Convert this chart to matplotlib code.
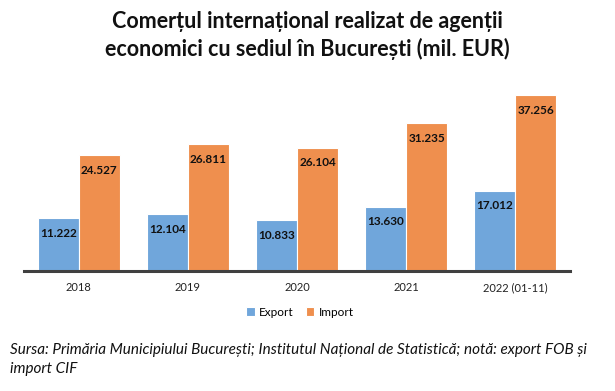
import matplotlib
matplotlib.use("Agg")
import matplotlib.pyplot as plt
import numpy as np

categories = ["2018", "2019", "2020", "2021", "2022 (01-11)"]
export_vals = [11222, 12104, 10833, 13630, 17012]
import_vals = [24527, 26811, 26104, 31235, 37256]
export_labels = ["11.222", "12.104", "10.833", "13.630", "17.012"]
import_labels = ["24.527", "26.811", "26.104", "31.235", "37.256"]

plt.rcParams['font.family'] = ['Lato', 'DejaVu Sans']

W, H = 615, 391
fig = plt.figure(figsize=(W/100, H/100), dpi=100)
ax = fig.add_axes([24/W, (H-271)/H, (570-24)/W, (271-82)/H])

x = np.arange(len(categories))
bw = 0.375
c_exp = "#70A6DB"
c_imp = "#EF8F4E"
b1 = ax.bar(x - bw/2, export_vals, bw, color=c_exp, edgecolor="white", linewidth=0.8, label="Export")
b2 = ax.bar(x + bw/2, import_vals, bw, color=c_imp, edgecolor="white", linewidth=0.8, label="Import")

ax.set_xlim(-0.5, len(categories) - 0.5)
ax.set_ylim(0, 40000)
for s in ["top", "left", "right"]:
    ax.spines[s].set_visible(False)
ax.spines["bottom"].set_color("#404040")
ax.spines["bottom"].set_linewidth(2.2)
ax.set_yticks([])
ax.set_xticks(x)
ax.set_xticklabels(categories, fontsize=8, color="#222222")
ax.tick_params(axis="x", length=0, pad=8)

for bars, labs in ((b1, export_labels), (b2, import_labels)):
    for r, lab in zip(bars, labs):
        ax.annotate(lab, (r.get_x() + r.get_width()/2, r.get_height()),
                    xytext=(0, -11), textcoords="offset points",
                    ha="center", va="center", fontsize=8.5, fontweight="bold", color="#111111")

fig.text(0.5, 1 - 22/H, "Comerțul internațional realizat de agenții", ha="center", va="center",
         fontsize=15.5, fontweight="bold", color="#111111")
fig.text(0.5, 1 - 49/H, "economici cu sediul în București (mil. EUR)", ha="center", va="center",
         fontsize=15.5, fontweight="bold", color="#111111")

fig.legend(handles=[b1, b2], labels=["Export", "Import"], loc="center",
           bbox_to_anchor=(300/W, 1 - 312/H), ncol=2, frameon=False, fontsize=8.5,
           handlelength=0.7, handleheight=0.7, handletextpad=0.4, columnspacing=1.0)

fig.text(10/W, 1 - 350/H, "Sursa: Primăria Municipiului București; Institutul Național de Statistică; notă: export FOB și",
         ha="left", va="center", fontsize=11, style="italic", color="#111111")
fig.text(10/W, 1 - 369/H, "import CIF", ha="left", va="center", fontsize=11, style="italic", color="#111111")

fig.savefig("out.png", dpi=100, facecolor="white")
